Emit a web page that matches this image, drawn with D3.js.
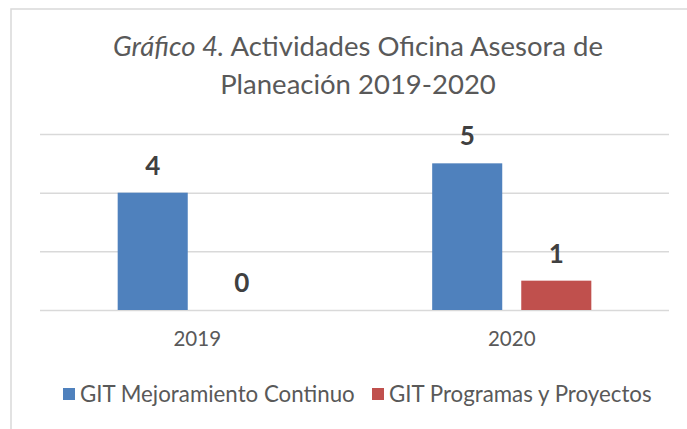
<!DOCTYPE html>
<html>
<head>
<meta charset="utf-8">
<script src="https://cdn.jsdelivr.net/npm/d3@7"></script>
<style>
  body { margin: 0; background: #fff; }
  svg { display: block; font-family: Lato, "Open Sans", sans-serif; }
</style>
</head>
<body>
<svg id="chart" width="687" height="429"></svg>
<script>
// data
let years = ["2019", "2020"];
let seriesNames = ["GIT Mejoramiento Continuo", "GIT Programas y Proyectos"];
let mejoramiento = [4, 5];
let programas = [0, 1];
let yTicks = [0, 2, 4, 6];
let colors = ["#4f81bd", "#c0504d"];

let svg = d3.select("svg#chart"),
	width = +svg.attr("width"),
	height = +svg.attr("height");

// chart border (cut off on right and bottom)
svg.append("rect")
	.attr("x", 11).attr("y", 9)
	.attr("width", width).attr("height", height)
	.attr("fill", "none")
	.attr("stroke", "#d9d9d9")
	.attr("stroke-width", 1.5);

// title
let title = svg.append("text")
	.attr("text-anchor", "middle")
	.attr("fill", "#595959")
	.style("font-size", "27.5px");
let t1 = title.append("tspan").attr("x", 358).attr("y", 56);
t1.append("tspan").style("font-style", "italic").text("Gráfico 4.");
t1.append("tspan").text(" Actividades Oficina Asesora de");
title.append("tspan").attr("x", 358).attr("y", 94).text("Planeación 2019-2020");

let table = years.map(function(y, i) {
	return { year: y, values: [mejoramiento[i], programas[i]] };
});

let x0 = d3.scaleBand()
	.domain(years)
	.range([40, 669])
	.paddingInner(0.494)
	.paddingOuter(0.247);

let x1 = d3.scaleBand()
	.domain([0, 1])
	.range([0, x0.bandwidth()])
	.paddingInner(0.2135)
	.paddingOuter(0);

let y = d3.scaleLinear()
	.domain([0, 6])
	.range([310, 134]);

// gridlines
svg.append("g")
	.attr("transform", "translate(40,0)")
	.call(d3.axisLeft(y).tickValues(yTicks).tickSize(-629).tickFormat(""))
	.call(function(g) { g.select(".domain").remove(); })
	.call(function(g) { g.selectAll("line").attr("stroke", "#d9d9d9").attr("stroke-width", 1.5); });

// x axis labels
svg.append("g")
	.attr("transform", "translate(0,310)")
	.call(d3.axisBottom(x0).tickSize(0).tickPadding(21))
	.call(function(g) { g.select(".domain").remove(); })
	.call(function(g) {
		g.selectAll("text")
			.attr("fill", "#595959")
			.style("font-size", "20.5px")
			.style("font-family", "Lato, 'Open Sans', sans-serif");
	});

// bars
let groups = svg.append("g").selectAll("g")
	.data(table)
	.enter().append("g")
	.attr("transform", function(d) { return "translate(" + x0(d.year) + ",0)"; });

groups.selectAll("rect")
	.data(function(d) { return d.values; })
	.enter().append("rect")
	.attr("x", function(d, i) { return x1(i); })
	.attr("y", function(d) { return y(d); })
	.attr("width", x1.bandwidth())
	.attr("height", function(d) { return y(0) - y(d); })
	.attr("fill", function(d, i) { return colors[i]; });

groups.selectAll("text")
	.data(function(d) { return d.values; })
	.enter().append("text")
	.attr("x", function(d, i) { return x1(i) + x1.bandwidth() / 2; })
	.attr("y", function(d) { return y(d) - 18; })
	.attr("text-anchor", "middle")
	.attr("fill", "#404040")
	.style("font-size", "26px")
	.style("font-weight", "bold")
	.text(function(d) { return d; });

// legend
let legend = svg.append("g");
let lx = [63, 372];
seriesNames.forEach(function(name, i) {
	legend.append("rect")
		.attr("x", lx[i]).attr("y", 388)
		.attr("width", 12).attr("height", 12)
		.attr("fill", colors[i]);
	legend.append("text")
		.attr("x", lx[i] + 17).attr("y", 402)
		.attr("fill", "#595959")
		.style("font-size", "22.3px")
		.text(name);
});
</script>
</body>
</html>
